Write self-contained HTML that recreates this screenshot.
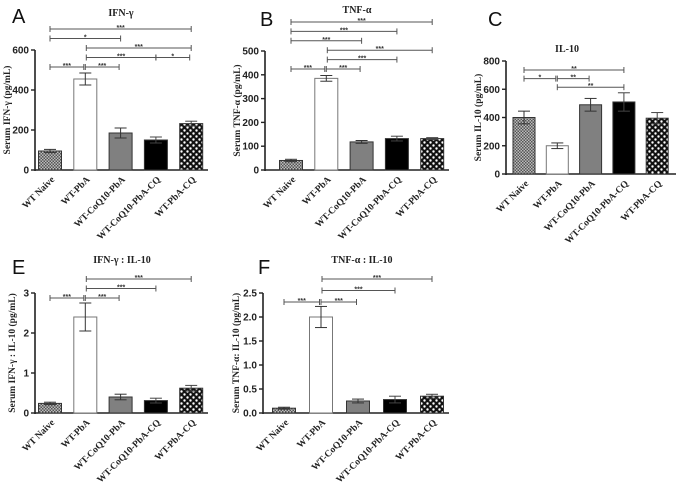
<!DOCTYPE html>
<html><head><meta charset="utf-8"><style>
body{margin:0;background:#fff;}
svg{display:block;}
.tk{font:bold 10px "Liberation Sans",sans-serif;fill:#222;}
.xl{font:bold 9.5px "Liberation Serif",serif;fill:#222;}
.yt{font:bold 9.5px "Liberation Serif",serif;fill:#222;}
.tt{font:bold 10px "Liberation Serif",serif;fill:#222;}
.pl{font:20px "Liberation Sans",sans-serif;fill:#111;}
.st{font:bold 7px "Liberation Sans",sans-serif;fill:#333;}
</style></head><body>
<svg id="fig" width="676" height="488" viewBox="0 0 676 488" xmlns="http://www.w3.org/2000/svg">
<defs>
<pattern id="chk" width="3" height="3" patternUnits="userSpaceOnUse"><rect width="3" height="3" fill="#bbb"/><rect width="1.5" height="1.5" fill="#555"/><rect x="1.5" y="1.5" width="1.5" height="1.5" fill="#555"/></pattern>
<pattern id="dots" width="6" height="6" patternUnits="userSpaceOnUse"><rect width="6" height="6" fill="#111"/><circle cx="1.5" cy="1.5" r="1.2" fill="#fff"/><circle cx="4.5" cy="4.5" r="1.2" fill="#fff"/></pattern>
</defs>
</svg>
<script>
const categories=["WT Naive","WT-PbA","WT-CoQ10-PbA","WT-CoQ10-PbA-CQ","WT-PbA-CQ"];
const ifnValues=[95,455,185,150,232];
const ifnErrors=[8,30,25,15,12];
const tnfValues=[40,385,118,132,132];
const tnfErrors=[5,12,6,10,4];
const il10Values=[400,200,490,510,395];
const il10Errors=[45,20,45,65,40];
const ifnRatioValues=[0.24,2.4,0.4,0.31,0.62];
const ifnRatioErrors=[0.03,0.35,0.07,0.06,0.07];
const tnfRatioValues=[0.1,2.0,0.25,0.28,0.35];
const tnfRatioErrors=[0.02,0.22,0.04,0.07,0.04];
const ifnTicks=[0,200,400,600];
const tnfTicks=[0,100,200,300,400,500];
const il10Ticks=[0,200,400,600,800];
const ifnRatioTicks=[0,1,2,3];
const tnfRatioTicks=["0.0","0.5","1.0","1.5","2.0","2.5"];
// significance brackets: [fromIndex, toIndex, label, row]
const ifnSig=[[0,4,"***",0],[0,2,"*",1],[1,4,"***",2],[1,3,"***",3],[3,4,"*",3],[0,1,"***",4],[1,2,"***",4]];
const tnfSig=[[0,4,"***",0],[0,3,"***",1],[0,2,"***",2],[1,4,"***",3],[1,3,"***",4],[0,1,"***",5],[1,2,"***",5]];
const il10Sig=[[0,3,"**",0],[0,1,"*",1],[1,2,"**",1],[1,3,"**",2]];
const ifnRatioSig=[[1,4,"***",0],[1,3,"***",1],[0,1,"***",2],[1,2,"***",2]];
const tnfRatioSig=[[1,4,"***",0],[1,3,"***",1],[0,1,"***",2],[1,2,"***",2]];

const fills=["url(#chk)","#fff","#808080","#000","url(#dots)"];
const svg=document.getElementById('fig');
const NS="http://www.w3.org/2000/svg";
function mk(tag,attrs,parent,text){const e=document.createElementNS(NS,tag);for(const k in attrs)e.setAttribute(k,attrs[k]);if(text!==undefined)e.textContent=text;(parent||svg).appendChild(e);return e;}

function panel(p){
  const g=mk('g',{});
  
  
  const ticksNum=p.ticks.map(Number);
  const ymax=ticksNum[ticksNum.length-1];
  const y=v=>p.y0-(v/ymax)*(p.y0-p.yTop);
  const x=i=>p.x0+p.dx*i;
  const ax=mk('line',{x1:p.ax,y1:p.yTop,x2:p.ax,y2:p.y0+1,stroke:'#222','stroke-width':1.6},g);
  
  
  const xa=mk('line',{x1:p.ax,y1:p.y0,x2:p.axEnd,y2:p.y0,stroke:'#222','stroke-width':1.6},g);
  
  
  p.ticks.forEach(t=>{
    const yy=y(Number(t));
    mk('line',{x1:p.ax-4,y1:yy,x2:p.ax,y2:yy,stroke:'#222','stroke-width':1.4},g);
    const tl=mk('text',{x:p.ax-6,y:yy+3.5,'text-anchor':'end',class:'tk'},g,t);
    
    
  });
  p.values.forEach((v,i)=>{
    const cx=x(i),w=p.bw;
    const top=y(v);
    const eh=y(v+p.errors[i]),el=y(v-p.errors[i]);
    const b=mk('rect',{x:cx-w/2,y:top,width:w,height:p.y0-top,fill:fills[i],stroke:i==1?'#777':'#333','stroke-width':1},g);
    
    
    const ec=i==3||i==4?'#444':'#333';
    mk('line',{x1:cx,y1:eh,x2:cx,y2:el,stroke:ec,'stroke-width':1},g);
    mk('line',{x1:cx-6,y1:eh,x2:cx+6,y2:eh,stroke:ec,'stroke-width':1},g);
    mk('line',{x1:cx-6,y1:el,x2:cx+6,y2:el,stroke:ec,'stroke-width':1},g);
    const lx=cx+5,ly=p.y0+10;
    const xl=mk('text',{x:lx,y:ly,'text-anchor':'end',class:'xl',transform:`rotate(-45 ${lx} ${ly})`},g,categories[i]);
    
    
  });
  p.sig.forEach(s=>{
    const yy=p.sigY0+s[3]*p.sigDy;
    const x1=x(s[0])+(s[0]==1&&s[1]!=2&&p.id!='c'?1:0), x2=x(s[1])-(s[0]+1==s[1]?1.5:0);
    const sg=mk('g',{},g);
    
    
    mk('line',{x1:x1,y1:yy,x2:x2,y2:yy,stroke:'#555','stroke-width':1},sg);
    mk('line',{x1:x1,y1:yy-3,x2:x1,y2:yy+3,stroke:'#555','stroke-width':1},sg);
    mk('line',{x1:x2,y1:yy-3,x2:x2,y2:yy+3,stroke:'#555','stroke-width':1},sg);
    mk('text',{x:(x1+x2)/2,y:yy+1,'text-anchor':'middle',class:'st'},sg,s[2]);
  });
  const ty=(p.y0+p.yTop)/2;
  const yt=mk('text',{x:p.ytX,y:ty,'text-anchor':'middle',class:'yt',transform:`rotate(-90 ${p.ytX} ${ty})`},g,p.ytitle);
  
  
  const tt=mk('text',{x:p.titleX,y:p.titleY,'text-anchor':'middle',class:'tt'},g,p.title);
  
  
  const pl=mk('text',{x:p.lx,y:p.ly,class:'pl'},g,p.letter);
  
  
}
panel({id:'a',letter:'A',lx:12,ly:23,title:'IFN-γ',titleX:121,titleY:16,ytitle:'Serum IFN-γ (pg/mL)',ytX:10,
  values:ifnValues,errors:ifnErrors,ticks:ifnTicks,sig:ifnSig,ax:35,axEnd:208,y0:170,yTop:50,x0:50,dx:35.3,bw:23,sigY0:29,sigDy:9.5});
panel({id:'b',letter:'B',lx:260,ly:26,title:'TNF-α',titleX:357,titleY:13,ytitle:'Serum TNF-α (pg/mL)',ytX:240,
  values:tnfValues,errors:tnfErrors,ticks:tnfTicks,sig:tnfSig,ax:265,axEnd:449,y0:170,yTop:51,x0:291,dx:35.3,bw:23,sigY0:22,sigDy:9.4});
panel({id:'c',letter:'C',lx:488,ly:26,title:'IL-10',titleX:567,titleY:52,ytitle:'Serum IL-10 (pg/mL)',ytX:481,
  values:il10Values,errors:il10Errors,ticks:il10Ticks,sig:il10Sig,ax:506,axEnd:676,y0:174,yTop:61,x0:524,dx:33.3,bw:22,sigY0:70,sigDy:8.6});
panel({id:'e',letter:'E',lx:12,ly:274,title:'IFN-γ : IL-10',titleX:122,titleY:263,ytitle:'Serum IFN-γ : IL-10 (pg/mL)',ytX:15,
  values:ifnRatioValues,errors:ifnRatioErrors,ticks:ifnRatioTicks,sig:ifnRatioSig,ax:35,axEnd:208,y0:413,yTop:293,x0:50,dx:35.3,bw:23,sigY0:279,sigDy:9.5});
panel({id:'f',letter:'F',lx:258,ly:274,title:'TNF-α : IL-10',titleX:362,titleY:263,ytitle:'Serum TNF-α: IL-10 (pg/mL)',ytX:239,
  values:tnfRatioValues,errors:tnfRatioErrors,ticks:tnfRatioTicks,sig:tnfRatioSig,ax:263,axEnd:449,y0:413,yTop:293,x0:284,dx:37,bw:23,sigY0:279,sigDy:11.5});
</script>
</body></html>
